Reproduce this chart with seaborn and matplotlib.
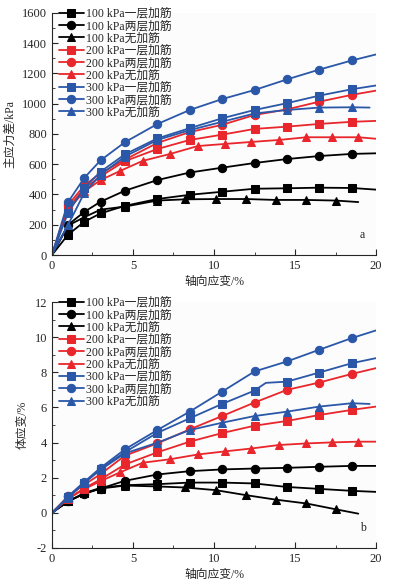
import numpy as np
import pandas as pd
import matplotlib.pyplot as plt
import seaborn as sns
from matplotlib.ticker import MultipleLocator

sns.set_style("ticks")
plt.rcParams['font.family'] = ['Liberation Serif', 'Noto Sans CJK SC']
plt.rcParams['axes.unicode_minus'] = False

labels = ["100 kPa一层加筋", "100 kPa两层加筋", "100 kPa无加筋",
          "200 kPa一层加筋", "200 kPa两层加筋", "200 kPa无加筋",
          "300 kPa一层加筋", "300 kPa两层加筋", "300 kPa无加筋"]
colors = ["black", "black", "black", "#e8262b", "#e8262b", "#e8262b", "#2a57a8", "#2a57a8", "#2a57a8"]
markers = ["s", "o", "^", "s", "o", "^", "s", "o", "^"]

# x positions of markers (first point 0 and last point have no marker)
x_std = [0, 1.0, 2.0, 3.0, 4.5, 6.5, 8.5, 10.5, 12.5, 14.5, 16.5, 18.5, 20]
x_tri100 = [0, 1.0, 2.0, 3.0, 4.5, 6.5, 8.2, 10.1, 12.0, 13.8, 15.7, 17.5, 18.9]
x_tri200 = [0, 1.0, 2.0, 3.0, 4.2, 5.6, 7.3, 9.0, 10.7, 12.3, 14.0, 15.7, 17.3, 18.9, 20]
x_tri300 = [0, 1.0, 2.0, 3.0, 4.5, 6.5, 8.5, 10.5, 12.5, 14.5, 16.5, 18.5, 19.6]
# 300 kPa one-layer volumetric curve has a small step near 13 %
x_sq300v = [0, 1.0, 2.0, 3.0, 4.5, 6.5, 8.5, 10.5, 12.5, 13.2, 14.5, 16.5, 18.5, 20]

# principal stress difference (kPa)
q_100_1 = [0, 135, 220, 275, 325, 370, 398, 418, 438, 441, 445, 443, 432]
q_100_2 = [0, 200, 285, 352, 425, 495, 545, 577, 608, 634, 654, 668, 672]
q_100_0 = [0, 195, 250, 300, 320, 360, 368, 370, 370, 364, 364, 360, 350]
q_200_1 = [0, 310, 440, 520, 620, 700, 760, 795, 833, 848, 866, 880, 886]
q_200_2 = [0, 330, 460, 540, 630, 740, 812, 860, 925, 962, 1013, 1058, 1086]
q_200_0 = [0, 300, 420, 495, 555, 622, 668, 720, 734, 747, 760, 778, 778, 778, 768]
q_300_1 = [0, 280, 445, 550, 665, 770, 838, 903, 958, 1003, 1053, 1095, 1120]
q_300_2 = [0, 350, 510, 625, 745, 865, 958, 1030, 1090, 1160, 1225, 1285, 1325]
q_300_0 = [0, 200, 410, 530, 650, 760, 825, 880, 935, 958, 974, 976, 974]

# volumetric strain (%)
v_100_1 = [0, 0.65, 1.12, 1.42, 1.57, 1.63, 1.72, 1.72, 1.67, 1.47, 1.36, 1.25, 1.19]
v_100_2 = [0, 0.66, 1.08, 1.38, 1.82, 2.18, 2.37, 2.47, 2.52, 2.56, 2.62, 2.67, 2.67]
v_100_0 = [0, 0.65, 1.1, 1.38, 1.55, 1.5, 1.44, 1.29, 1.0, 0.75, 0.53, 0.2, -0.05]
v_200_1 = [0, 0.8, 1.4, 1.9, 2.75, 3.44, 4.05, 4.54, 4.96, 5.23, 5.57, 5.86, 6.05]
v_200_2 = [0, 0.95, 1.6, 2.2, 3.25, 3.95, 4.75, 5.51, 6.28, 7.0, 7.42, 7.91, 8.24]
v_200_0 = [0, 0.8, 1.35, 1.8, 2.3, 2.85, 3.05, 3.32, 3.5, 3.66, 3.86, 3.95, 4.01, 4.05, 4.05]
v_300_1 = [0, 0.88, 1.72, 2.5, 3.45, 4.55, 5.38, 6.2, 6.96, 7.4, 7.47, 7.99, 8.52, 8.81]
v_300_2 = [-0.1, 0.94, 1.76, 2.56, 3.61, 4.71, 5.76, 6.9, 8.05, 8.62, 9.29, 9.95, 10.39]
v_300_0 = [0, 0.85, 1.7, 2.45, 3.38, 3.99, 4.71, 5.13, 5.51, 5.76, 6.05, 6.24, 6.2]

xs_q = [x_std, x_std, x_tri100, x_std, x_std, x_tri200, x_std, x_std, x_tri300]
xs_v = [x_std, x_std, x_tri100, x_std, x_std, x_tri200, x_sq300v, x_std, x_tri300]
q_all = [q_100_1, q_100_2, q_100_0, q_200_1, q_200_2, q_200_0, q_300_1, q_300_2, q_300_0]
v_all = [v_100_1, v_100_2, v_100_0, v_200_1, v_200_2, v_200_0, v_300_1, v_300_2, v_300_0]

fig = plt.figure(figsize=(3.93, 5.81), dpi=100)
ax1 = fig.add_axes([0.132, 0.561, 0.825, 0.417])
ax2 = fig.add_axes([0.132, 0.057, 0.825, 0.423])


def draw(ax, xs, ys):
    for x, y, lab, c, m in zip(xs, ys, labels, colors, markers):
        df = pd.DataFrame({"x": x, "y": y})
        mk = [i for i in range(1, len(x) - 1) if x[i] != 13.2]
        sns.lineplot(data=df, x="x", y="y", ax=ax, color=c, marker=m, markersize=6,
                     markeredgecolor=c, linewidth=1.3, label=lab, sort=False,
                     markevery=mk)
    ax.set_xlim(0, 20)
    ax.xaxis.set_major_locator(MultipleLocator(5))
    ax.xaxis.set_minor_locator(MultipleLocator(2.5))
    ax.tick_params(which="both", direction="in", labelsize=9)
    ax.tick_params(which="major", length=4)
    ax.tick_params(which="minor", length=2.5)
    sns.despine(ax=ax)
    ax.set_facecolor("#fcfcfc")
    ax.set_xlabel("轴向应变/%", fontsize=8.5)
    ax.xaxis.set_label_coords(0.5, -0.085)
    ax.legend(loc="upper left", bbox_to_anchor=(0.0, 1.05), frameon=False,
              fontsize=8.5, handlelength=2.1, labelspacing=0.03,
              handletextpad=0.2, borderaxespad=0.2)


draw(ax1, xs_q, q_all)
ax1.set_ylim(0, 1600)
ax1.yaxis.set_major_locator(MultipleLocator(200))
ax1.yaxis.set_minor_locator(MultipleLocator(100))
ax1.set_ylabel("主应力差/kPa", fontsize=8.5)
ax1.text(0.95, 0.07, "a", transform=ax1.transAxes, fontsize=8.5)

draw(ax2, xs_v, v_all)
ax2.set_ylim(-2, 12)
ax2.yaxis.set_major_locator(MultipleLocator(2))
ax2.yaxis.set_minor_locator(MultipleLocator(1))
ax2.set_ylabel("体应变/%", fontsize=8.5)
ax2.text(0.95, 0.07, "b", transform=ax2.transAxes, fontsize=8.5)

fig.savefig("out.png", dpi=100)
